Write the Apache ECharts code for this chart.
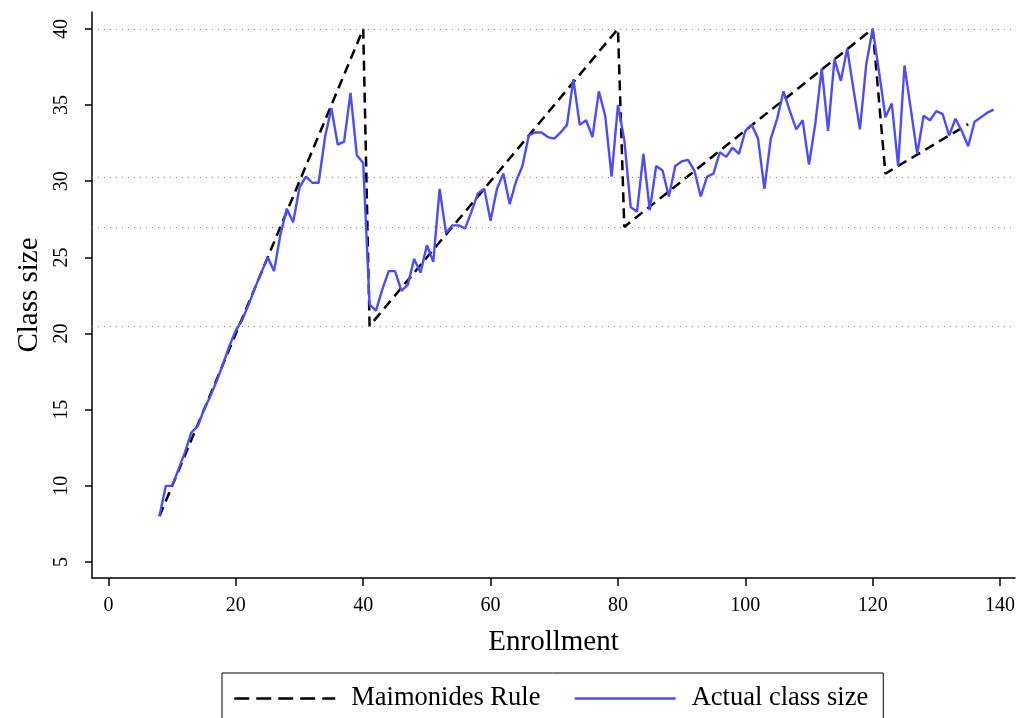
<!DOCTYPE html>
<html>
<head>
<meta charset="utf-8">
<script src="https://cdn.jsdelivr.net/npm/echarts@6/dist/echarts.min.js"></script>
<style>
html,body{margin:0;padding:0;background:#fff;}
#chart{width:1019px;height:718px;}
</style>
</head>
<body>
<div id="chart"></div>
<script>
// Enrollment values (x) and actual average class size (y)
var enrollment = [8,9,10,11,12,13,14,15,16,17,18,19,20,21,22,23,24,25,26,27,28,29,30,31,32,33,34,35,36,37,38,39,40,
  41,42,43,44,45,46,47,48,49,50,51,52,53,54,55,56,57,58,59,60,61,62,63,64,65,66,67,68,69,70,71,72,73,74,75,76,77,78,79,80,
  81,82,83,84,85,86,87,88,89,90,91,92,93,94,95,96,97,98,99,100,101,102,103,104,105,106,107,108,109,110,111,112,113,114,115,116,117,118,119,120,
  121,122,123,124,125,126,127,128,129,130,131,132,133,134,135,136,137,138,139];
var actualSize = [8.0,10.0,10.0,11.1,12.2,13.5,13.9,15.0,15.9,16.9,18.0,19.2,20.2,20.9,21.9,23.0,24.0,25.0,24.1,26.5,28.2,27.3,29.6,30.3,29.9,29.9,32.9,34.8,32.4,32.6,35.8,31.7,31.2,
  21.9,21.5,22.9,24.1,24.1,22.8,23.2,24.9,24.0,25.8,24.7,29.5,26.6,27.1,27.1,26.9,28.0,29.2,29.5,27.4,29.5,30.5,28.5,30.0,31.0,33.0,33.2,33.2,32.9,32.8,33.2,33.7,36.7,33.7,34.0,32.9,35.9,34.3,30.3,35.0,
  32.7,28.3,28.0,31.8,28.1,31.0,30.7,29.0,31.0,31.3,31.4,30.7,29.0,30.3,30.5,31.9,31.6,32.2,31.8,33.3,33.7,32.8,29.5,32.8,34.1,35.9,34.6,33.4,34.0,31.1,33.8,37.4,33.3,38.0,36.6,38.7,36.0,33.4,37.7,40.0,
  37.2,34.2,35.1,31.0,37.6,34.7,31.8,34.3,34.0,34.6,34.4,33.0,34.1,33.3,32.3,33.9,34.2,34.5,34.7];
// Maimonides rule vertices (enrollment, predicted class size)
var ruleEnrollment = [8, 40, 41, 80, 81, 120, 122, 135];
var ruleSize = [8, 40, 20.5, 40, 27, 40, 30.5, 33.75];
// Dotted reference lines
var refLines = [40, 30.25, 27, 20.5];
// Tick labels
var xTicks = [0, 20, 40, 60, 80, 100, 120, 140];
var yTicks = [5, 10, 15, 20, 25, 30, 35, 40];

var actualData = enrollment.map(function (e, i) { return [e, actualSize[i]]; });
var ruleData = ruleEnrollment.map(function (e, i) { return [e, ruleSize[i]]; });

var serif = 'Liberation Serif';
var blue = '#4c4cff';
var chart = echarts.init(document.getElementById('chart'), null, {renderer: 'canvas'});
chart.setOption({
  animation: false,
  backgroundColor: '#fff',
  grid: {left: 92, right: 4, top: 12, bottom: 140},
  xAxis: {
    type: 'value', min: -2.59, max: 142.35,
    name: 'Enrollment', nameLocation: 'middle', nameGap: 50,
    nameTextStyle: {fontFamily: serif, fontSize: 29, color: '#000'},
    axisLine: {onZero: false, lineStyle: {color: '#000', width: 1.5}},
    axisTick: {length: 8, customValues: xTicks, lineStyle: {color: '#000', width: 1.5}},
    axisLabel: {customValues: xTicks, fontFamily: serif, fontSize: 20, color: '#000', margin: 18},
    splitLine: {show: false}
  },
  yAxis: {
    type: 'value', min: 3.95, max: 41.11,
    name: 'Class size', nameLocation: 'middle', nameGap: 46,
    nameTextStyle: {fontFamily: serif, fontSize: 29, color: '#000'},
    axisLine: {show: true, onZero: false, lineStyle: {color: '#000', width: 1.5}},
    axisTick: {show: true, length: 7, customValues: yTicks, lineStyle: {color: '#000', width: 1.5}},
    axisLabel: {customValues: yTicks, rotate: 90, fontFamily: serif, fontSize: 20, color: '#000', margin: 20},
    splitLine: {show: false}
  },
  legend: {
    left: 222, top: 673,
    itemWidth: 101, itemHeight: 14, itemGap: 33,
    padding: [12, 15, 12, 11],
    borderColor: '#000', borderWidth: 1,
    itemStyle: {opacity: 0},
    textStyle: {fontFamily: serif, fontSize: 26.5, color: '#000', padding: [0, 0, 0, 11]},
    data: [
      {name: 'Maimonides Rule', lineStyle: {type: [15, 7], width: 2.5, color: '#000'}},
      {name: 'Actual class size', lineStyle: {width: 2.5, color: blue}}
    ]
  },
  series: [
    {
      name: 'Maimonides Rule', type: 'line', data: ruleData,
      showSymbol: false, symbol: 'none',
      lineStyle: {color: '#000', width: 2.5, type: [10, 6]},
      itemStyle: {color: '#000'},
      markLine: {
        silent: true, symbol: 'none', label: {show: false},
        lineStyle: {color: '#888', width: 1.2, type: [1, 5]},
        data: refLines.map(function (v) { return {yAxis: v}; })
      }
    },
    {
      name: 'Actual class size', type: 'line', data: actualData,
      showSymbol: false, symbol: 'none',
      lineStyle: {color: blue, width: 2.4},
      itemStyle: {color: blue}
    }
  ]
});
</script>
</body>
</html>
